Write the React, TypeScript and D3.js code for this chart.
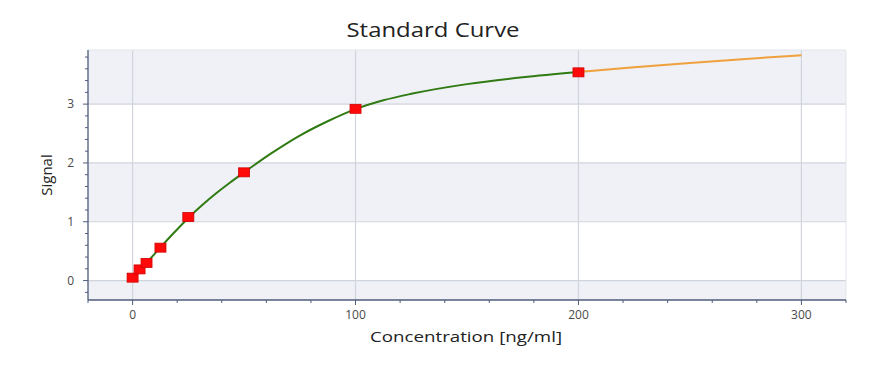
import React from "react";
import * as d3 from "d3";

// measured standards
const stdConc = [0, 3.125, 6.25, 12.5, 25, 50, 100, 200];
const stdSignal = [0.05, 0.19, 0.3, 0.56, 1.08, 1.84, 2.92, 3.54];

// fitted curve (green inside standards, orange extrapolated)
const fitConc = [0, 6.25, 12.5, 18.75, 25, 31.25, 37.5, 43.75, 50, 62.5, 75, 87.5, 100, 112.5, 125, 150, 175, 200];
const fitSignal = [0.04, 0.3, 0.565, 0.821, 1.065, 1.284, 1.484, 1.668, 1.84, 2.17, 2.465, 2.709, 2.915, 3.065, 3.175, 3.34, 3.455, 3.545];
const extConc = [200, 225, 250, 275, 300];
const extSignal = [3.545, 3.625, 3.7, 3.768, 3.83];

const xTicks = [0, 100, 200, 300];
const yTicks = [0, 1, 2, 3];

const W = 892;
const H = 366;
const margin = { top: 50, right: 46, bottom: 66, left: 88 };
const FONT = "'Open Sans', 'DejaVu Sans', sans-serif";

const App = () => {
  const innerW = W - margin.left - margin.right;
  const innerH = H - margin.top - margin.bottom;

  const x = d3.scaleLinear().domain([-20, 320]).range([0, innerW]);
  const y = d3.scaleLinear().domain([-0.33, 3.92]).range([innerH, 0]);

  const line = d3
    .line<[number, number]>()
    .x((d) => x(d[0]))
    .y((d) => y(d[1]))
    .curve(d3.curveMonotoneX);

  const fitPts = fitConc.map((c, i) => [c, fitSignal[i]] as [number, number]);
  const extPts = extConc.map((c, i) => [c, extSignal[i]] as [number, number]);

  // alternating bands between major y ticks
  const bandEdges = [y.domain()[0], ...yTicks, y.domain()[1]];
  const bands = bandEdges.slice(0, -1).map((lo, i) => ({ lo, hi: bandEdges[i + 1], shade: i % 2 === 0 }));

  const yMinor = d3.range(-0.2, 3.92, 0.2).filter((v) => Math.abs(v - Math.round(v)) > 0.01);
  const xMinor = d3.range(-20, 321, 20).filter((v) => v % 100 !== 0);

  const axisColor = "#4f5d7a";
  const gridColor = "#d0d4dd";

  return (
    <svg
      width={W}
      height={H}
      style={{ position: "absolute", left: 0, top: 0, background: "#fff" }}
      fontFamily={FONT}
    >
      <text x={433} y={37} textAnchor="middle" fontSize={20} fill="#222" textLength={173} lengthAdjust="spacingAndGlyphs">
        Standard Curve
      </text>
      <g transform={`translate(${margin.left},${margin.top})`}>
        {bands.map((b, i) => (
          <rect
            key={i}
            x={0}
            y={y(b.hi)}
            width={innerW}
            height={y(b.lo) - y(b.hi)}
            fill={b.shade ? "#eff1f6" : "#ffffff"}
          />
        ))}
        {yTicks.map((t) => (
          <line key={t} x1={0} x2={innerW} y1={y(t)} y2={y(t)} stroke={gridColor} strokeWidth={1.2} />
        ))}
        {xTicks.map((t) => (
          <line key={t} x1={x(t)} x2={x(t)} y1={0} y2={innerH} stroke={gridColor} strokeWidth={1.2} />
        ))}
        <line x1={0} x2={innerW} y1={0} y2={0} stroke="#e2e5eb" />
        <line x1={innerW} x2={innerW} y1={0} y2={innerH} stroke="#e2e5eb" />

        <path d={line(extPts) ?? ""} fill="none" stroke="#f0a03c" strokeWidth={2} />
        <path d={line(fitPts) ?? ""} fill="none" stroke="#2f7a12" strokeWidth={2} />

        {stdConc.map((c, i) => (
          <rect
            key={i}
            x={x(c) - 5.5}
            y={y(stdSignal[i]) - 4.5}
            width={11}
            height={9}
            fill="#ff0a0a"
            stroke="#d00000"
            strokeWidth={0.8}
          />
        ))}

        {/* axes */}
        <line x1={0} x2={0} y1={0} y2={innerH} stroke={axisColor} strokeWidth={1.3} />
        <line x1={0} x2={innerW} y1={innerH} y2={innerH} stroke={axisColor} strokeWidth={1.3} />
        {yTicks.map((t) => (
          <g key={t}>
            <line x1={-5} x2={0} y1={y(t)} y2={y(t)} stroke={axisColor} />
            <text x={-14} y={y(t)} dy="0.35em" textAnchor="end" fontSize={12} fill="#4a4a4a">
              {t}
            </text>
          </g>
        ))}
        {yMinor.map((t) => (
          <line key={t} x1={-3} x2={0} y1={y(t)} y2={y(t)} stroke={axisColor} />
        ))}
        {xTicks.map((t) => (
          <g key={t}>
            <line x1={x(t)} x2={x(t)} y1={innerH} y2={innerH + 5} stroke={axisColor} />
            <text x={x(t)} y={innerH + 18.5} textAnchor="middle" fontSize={12} fill="#4a4a4a">
              {t}
            </text>
          </g>
        ))}
        {xMinor.map((t) => (
          <line key={t} x1={x(t)} x2={x(t)} y1={innerH} y2={innerH + 3} stroke={axisColor} />
        ))}

        <text
          x={378}
          y={innerH + 42}
          textAnchor="middle"
          fontSize={15}
          fill="#222"
          textLength={192}
          lengthAdjust="spacingAndGlyphs"
        >
          Concentration [ng/ml]
        </text>
        <text
          transform={`translate(-41,${innerH / 2}) rotate(-90)`}
          textAnchor="middle"
          dy="0.35em"
          fontSize={15}
          fill="#222"
        >
          Signal
        </text>
      </g>
    </svg>
  );
};

export default App;
